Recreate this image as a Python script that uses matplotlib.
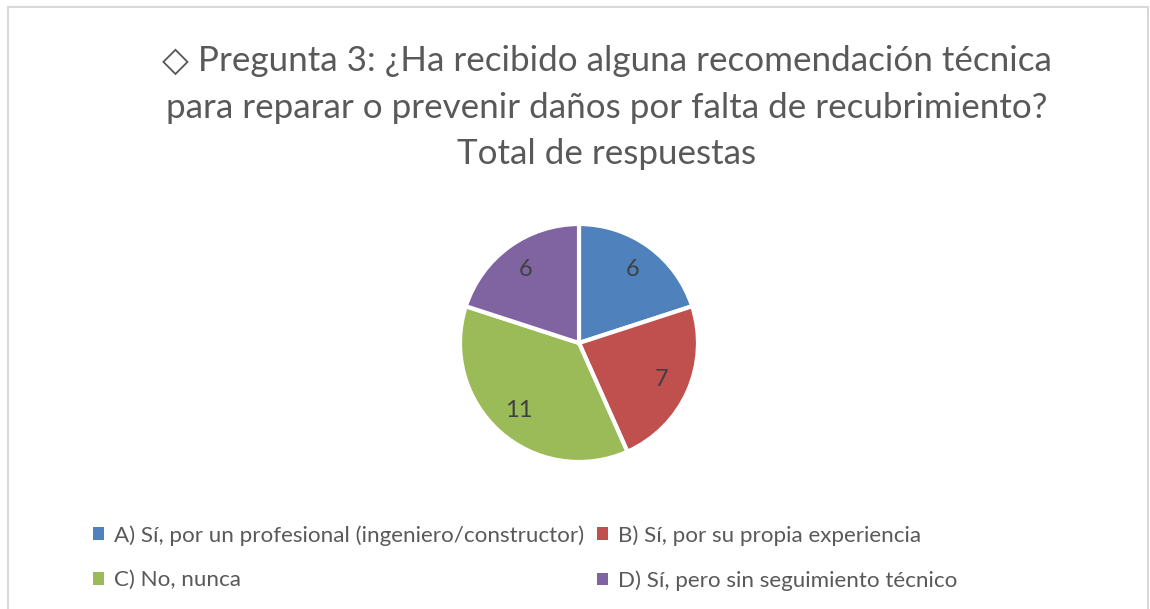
import matplotlib.pyplot as plt
from matplotlib.patches import Rectangle

# Data
categories = ['A) Sí, por un profesional (ingeniero/constructor)',
              'B) Sí, por su propia experiencia',
              'C) No, nunca',
              'D) Sí, pero sin seguimiento técnico']
values = [6, 7, 11, 6]
colors = ['#4F81BD', '#C0504D', '#9BBB59', '#8064A2']
title = '◇ Pregunta 3: ¿Ha recibido alguna recomendación técnica\npara reparar o prevenir daños por falta de recubrimiento?\nTotal de respuestas'

plt.rcParams['font.family'] = ['Lato', 'DejaVu Sans']

W, H = 1150, 609
fig = plt.figure(figsize=(W / 100, H / 100), dpi=100)
fig.patch.set_facecolor('white')

# chart border
fig.patches.append(Rectangle((8 / W, -0.01), (1148 - 8) / W, 1 - 7 / H + 0.01,
                             transform=fig.transFigure, fill=False,
                             edgecolor='#D9D9D9', linewidth=1.5))

# Title
fig.text(607 / W, 1 - 45 / H, title, ha='center', va='top', fontsize=25.2,
         color='#595959', linespacing=1.56)

# Pie
cx, cy, r = 579, 343, 119
ax = fig.add_axes([(cx - r) / W, 1 - (cy + r) / H, 2 * r / W, 2 * r / H])
wedges, texts = ax.pie(values, colors=colors, startangle=90, counterclock=False,
                       labels=[str(v) for v in values], labeldistance=0.76,
                       wedgeprops=dict(edgecolor='white', linewidth=3),
                       textprops=dict(fontsize=17, color='#404040'))
for t in texts:
    t.set_ha('center')
    t.set_va('center')
ax.set_xlim(-1.0, 1.0)
ax.set_ylim(-1.0, 1.0)
ax.set_aspect('equal')

# Legend (row-wise order)
order = [0, 2, 1, 3]
handles = [wedges[i] for i in order]
labels = [categories[i] for i in order]
leg = fig.legend(handles, labels, ncol=2, loc='upper left',
                 bbox_to_anchor=(73 / W, 1 - 505 / H), frameon=False,
                 fontsize=16.1, handlelength=0.5, handleheight=0.5,
                 handletextpad=0.45, columnspacing=0.55, labelspacing=1.1,
                 labelcolor='#595959')
for h in leg.legend_handles:
    h.set_edgecolor('none')

fig.savefig('out.png', dpi=100)
